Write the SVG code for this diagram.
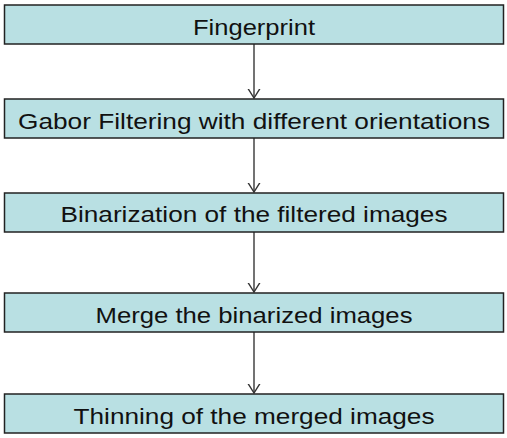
<svg xmlns="http://www.w3.org/2000/svg" width="507" height="438" viewBox="0 0 507 438">
<style>
.box{fill:#b9e0e3;stroke:#222;stroke-width:1.5}
.t{font-family:"Liberation Sans",Arial,sans-serif;font-size:22px;fill:#111;text-anchor:middle}
.c{stroke:#444;stroke-width:1.5;fill:none}
</style>
<defs>
<marker id="a" viewBox="0 0 10 14" refX="9.5" refY="7" markerWidth="10" markerHeight="14" markerUnits="userSpaceOnUse" orient="auto">
<path d="M0,1 L9.5,7 L0,13" fill="none" stroke="#333" stroke-width="1.4"/>
</marker>
</defs>
<rect width="507" height="438" fill="#fff"/>
<g id="connectors">
<line class="c" x1="254" y1="44" x2="254" y2="98" marker-end="url(#a)"/>
<line class="c" x1="254" y1="138" x2="254" y2="192" marker-end="url(#a)"/>
<line class="c" x1="254" y1="232" x2="254" y2="292" marker-end="url(#a)"/>
<line class="c" x1="254" y1="332" x2="254" y2="393" marker-end="url(#a)"/>
</g>
<g id="n1"><rect class="box" x="4.5" y="5" width="499" height="39"/><text class="t" x="254" y="35" textLength="122" lengthAdjust="spacingAndGlyphs">Fingerprint</text></g>
<g id="n2"><rect class="box" x="4.5" y="99" width="499" height="39"/><text class="t" x="254" y="129" textLength="472" lengthAdjust="spacingAndGlyphs">Gabor Filtering with different orientations</text></g>
<g id="n3"><rect class="box" x="4.5" y="193" width="499" height="39"/><text class="t" x="254" y="222" textLength="387" lengthAdjust="spacingAndGlyphs">Binarization of the filtered images</text></g>
<g id="n4"><rect class="box" x="4.5" y="293" width="499" height="39"/><text class="t" x="254" y="323" textLength="317" lengthAdjust="spacingAndGlyphs">Merge the binarized images</text></g>
<g id="n5"><rect class="box" x="4.5" y="394" width="499" height="39"/><text class="t" x="254" y="424" textLength="361" lengthAdjust="spacingAndGlyphs">Thinning of the merged images</text></g>
</svg>
